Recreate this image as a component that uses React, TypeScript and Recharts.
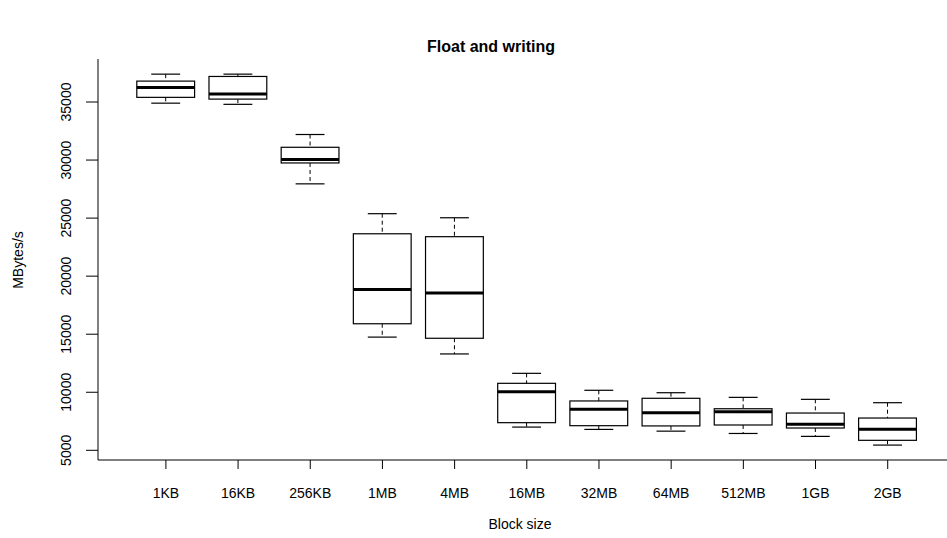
import { Bar, BarChart, XAxis, YAxis } from "recharts";

const FONT = '"Liberation Sans", Arial, Helvetica, sans-serif';

// Block sizes on the x axis
const sizes = ["1KB", "16KB", "256KB", "1MB", "4MB", "16MB", "32MB", "64MB", "512MB", "1GB", "2GB"];

// Five-number summaries, MBytes/s
const whiskerLow = [34900, 34800, 27950, 14750, 13300, 7000, 6800, 6650, 6450, 6200, 5450];
const quartile1 = [35400, 35250, 29750, 15900, 14650, 7380, 7120, 7100, 7180, 6920, 5860];
const medians = [36250, 35700, 30050, 18850, 18550, 10050, 8530, 8240, 8320, 7240, 6810];
const quartile3 = [36800, 37200, 31100, 23650, 23400, 10770, 9250, 9480, 8580, 8210, 7780];
const whiskerHigh = [37400, 37400, 32200, 25380, 25030, 11630, 10170, 9960, 9560, 9390, 9100];

const yTicks = [5000, 10000, 15000, 20000, 25000, 30000, 35000];

const rows = sizes.map((size, i) => ({
  size,
  box: [quartile1[i], quartile3[i]],
  lo: whiskerLow[i],
  med: medians[i],
  hi: whiskerHigh[i],
}));

// Box + dashed whiskers, positioned from the bar's own q1..q3 pixel span
function BoxShape(props: any) {
  const { x, y, width, height, payload } = props;
  const top = Math.min(y, y + height);
  const h = Math.abs(height);
  const [q1, q3] = payload.box;
  const perUnit = h / (q3 - q1);
  const py = (v: number) => top + (q3 - v) * perUnit;
  const cx = x + width / 2;
  const cap = width / 4;
  const yHi = py(payload.hi);
  const yLo = py(payload.lo);
  const yMed = py(payload.med);
  return (
    <g stroke="#000" fill="none">
      <line x1={cx} x2={cx} y1={yHi} y2={top} strokeDasharray="4 3" strokeWidth={1} />
      <line x1={cx} x2={cx} y1={top + h} y2={yLo} strokeDasharray="4 3" strokeWidth={1} />
      <line x1={cx - cap} x2={cx + cap} y1={yHi} y2={yHi} strokeWidth={1.2} />
      <line x1={cx - cap} x2={cx + cap} y1={yLo} y2={yLo} strokeWidth={1.2} />
      <rect x={x} y={top} width={width} height={h} fill="#fff" strokeWidth={1.2} />
      <line x1={x} x2={x + width} y1={yMed} y2={yMed} strokeWidth={3} />
    </g>
  );
}

function YTick(props: any) {
  const { x, y, payload } = props;
  return (
    <text
      x={x}
      y={y}
      dy="0.35em"
      transform={`rotate(-90, ${x}, ${y})`}
      textAnchor="middle"
      fontSize={14}
      fontFamily={FONT}
      fill="#000"
    >
      {payload.value}
    </text>
  );
}

export default function App() {
  return (
    <div
      style={{
        position: "absolute",
        left: 0,
        top: 0,
        width: 947,
        height: 538,
        overflow: "hidden",
        background: "#fff",
        fontFamily: FONT,
      }}
    >
      <BarChart
        width={970}
        height={538}
        data={rows}
        barSize={57.8}
        margin={{ top: 59, right: 14.4, bottom: 18, left: 0 }}
      >
        <XAxis
          dataKey="size"
          type="category"
          padding={{ left: 31.8, right: 31.8 }}
          height={60}
          tickSize={9}
          tickMargin={19}
          interval={0}
          axisLine={{ stroke: "#000" }}
          tickLine={{ stroke: "#000" }}
          tick={{ fill: "#000", fontSize: 14, fontFamily: FONT }}
        />
        <XAxis xAxisId="top" dataKey="size" orientation="top" height={0} tick={false} tickLine={false} axisLine={{ stroke: "#000" }} />
        <YAxis
          type="number"
          domain={[4165, 38704]}
          allowDataOverflow
          ticks={yTicks}
          width={98}
          tickSize={12}
          tickMargin={20}
          axisLine={{ stroke: "#000" }}
          tickLine={{ stroke: "#000" }}
          tick={<YTick />}
        />
        <YAxis yAxisId="right" orientation="right" width={0} tick={false} tickLine={false} axisLine={{ stroke: "#000" }} />
        <Bar dataKey="box" shape={<BoxShape />} isAnimationActive={false} />
      </BarChart>

      <div style={{ position: "absolute", left: 291, width: 400, top: 38, lineHeight: "18px", fontSize: 16, fontWeight: "bold", textAlign: "center" }}>
        Float and writing
      </div>
      <div style={{ position: "absolute", left: 320, width: 400, top: 516, lineHeight: "16px", fontSize: 14, textAlign: "center" }}>
        Block size
      </div>
      <div
        style={{
          position: "absolute",
          left: -82,
          top: 251.5,
          width: 200,
          lineHeight: "16px",
          fontSize: 14,
          textAlign: "center",
          transform: "rotate(-90deg)",
        }}
      >
        MBytes/s
      </div>
    </div>
  );
}
